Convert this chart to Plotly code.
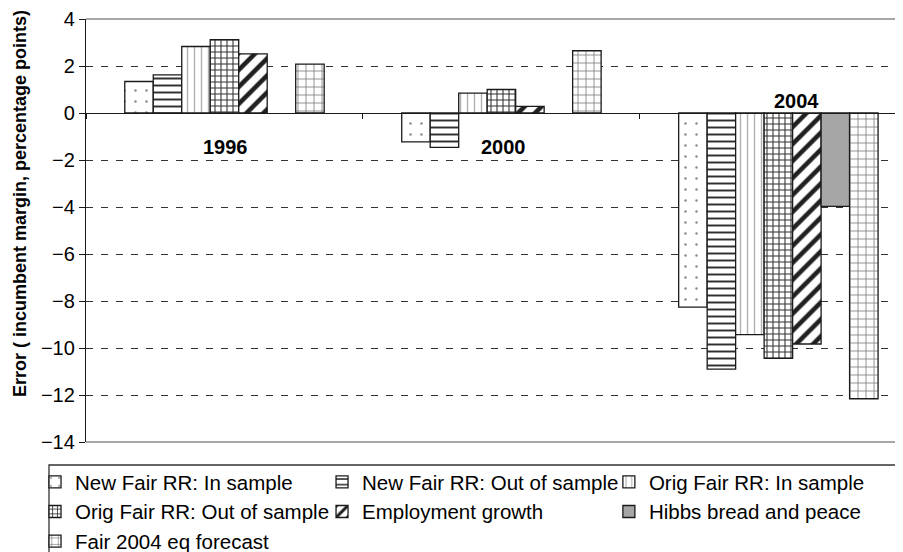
import plotly.graph_objects as go

years = ["1996", "2000", "2004"]

series_names = [
    "New Fair RR: In sample",
    "New Fair RR: Out of sample",
    "Orig Fair RR: In sample",
    "Orig Fair RR: Out of sample",
    "Employment growth",
    "Hibbs bread and peace",
    "Fair 2004 eq forecast",
]

new_fair_in = [1.34, -1.23, -8.26]
new_fair_out = [1.62, -1.46, -10.9]
orig_fair_in = [2.83, 0.85, -9.43]
orig_fair_out = [3.12, 1.0, -10.44]
employment = [2.52, 0.28, -9.83]
hibbs = [None, None, -3.97]
fair_2004 = [2.08, 2.65, -12.16]

series_values = [new_fair_in, new_fair_out, orig_fair_in, orig_fair_out,
                 employment, hibbs, fair_2004]

y_min, y_max = -14, 4

FONT = "Liberation Sans, Arial, sans-serif"

# pattern styling per series: (shape, size, solidity, fg colour, fill colour)
styles = [
    (".", 11, 0.04, "#8a8a8a", "white"),
    ("-", 7, 0.28, "#303030", "white"),
    ("|", 7, 0.2, "#b0b0b0", "white"),
    ("+", 6, 0.32, "#303030", "white"),
    ("/", 12, 0.38, "#202020", "white"),
    ("", 8, 0.3, "#a6a6a6", "#a6a6a6"),
    ("+", 8, 0.2, "#808080", "white"),
]
legend_of = ["legend", "legend2", "legend3", "legend", "legend2", "legend3", "legend"]

fig = go.Figure()
for name, vals, st, lg in zip(series_names, series_values, styles, legend_of):
    shape, size, solid, fg, bg = st
    fig.add_trace(go.Bar(
        x=years,
        y=vals,
        name=name,
        legend=lg,
        marker=dict(
            color=bg,
            line=dict(color="#1a1a1a", width=1.3),
            pattern=dict(shape=shape, size=size, solidity=solid,
                         fgcolor=fg, bgcolor=bg, fillmode="replace"),
        ),
    ))

# year labels next to the zero line
label_shift = {"1996": (1, -34), "2000": (2, -34), "2004": (18, 12)}
for i, yr in enumerate(years):
    dx, dy = label_shift[yr]
    fig.add_annotation(x=i, y=0, text="<b>%s</b>" % yr, showarrow=False,
                       xshift=dx, yshift=dy,
                       font=dict(family=FONT, size=20, color="black"))

fig.add_annotation(
    xref="paper", yref="paper", x=-0.0808, y=0.565,
    xanchor="center", yanchor="middle",
    text="<b>Error ( incumbent margin, percentage points)</b>",
    textangle=-90, showarrow=False,
    font=dict(family=FONT, size=18, color="black"),
)

# plot frame (top and bottom) and legend box
fig.add_shape(type="line", xref="paper", yref="paper", x0=0, x1=1.02, y0=1, y1=1,
              line=dict(color="#8a8a8a", width=1.5))
fig.add_shape(type="line", xref="paper", yref="paper", x0=0, x1=1.02, y0=0, y1=0,
              line=dict(color="#8a8a8a", width=1.5))
fig.add_shape(type="rect", xref="paper", yref="paper",
              x0=-0.0453, x1=1.02, y0=-0.3, y1=-0.0544,
              line=dict(color="#333333", width=1.3), fillcolor="rgba(0,0,0,0)")

legend_common = dict(font=dict(family=FONT, size=20.5, color="black"),
                     bgcolor="rgba(0,0,0,0)", borderwidth=0,
                     xanchor="left", yanchor="top", orientation="v",
                     traceorder="normal")

# page body adds an 8px offset, so the figure is 8px smaller than the window
fig.update_layout(
    width=895, height=544,
    margin=dict(l=78, r=0, t=11, b=110, autoexpand=False),
    paper_bgcolor="white", plot_bgcolor="white",
    barmode="group", bargap=0.28, bargroupgap=0,
    showlegend=True,
    legend=dict(x=-0.0624, y=-0.0473, **legend_common),
    legend2=dict(x=0.2889, y=-0.0473, **legend_common),
    legend3=dict(x=0.640, y=-0.0473, **legend_common),
    xaxis=dict(
        type="category", range=[-0.5, 2.45],
        anchor="free", position=(0 - y_min) / (y_max - y_min),
        showline=True, linecolor="#1a1a1a", linewidth=1.3,
        ticks="outside", tickson="boundaries", ticklen=5,
        tickcolor="#1a1a1a", showticklabels=False, showgrid=False,
        zeroline=False,
    ),
    yaxis=dict(
        range=[y_min, y_max], dtick=2, tick0=0,
        showline=True, linecolor="#1a1a1a", linewidth=1.3,
        ticks="outside", ticklen=6, tickcolor="#1a1a1a",
        tickfont=dict(family=FONT, size=20, color="black"),
        showgrid=True, gridcolor="#333333", gridwidth=1.2,
        griddash="7px,8px", zeroline=False,
    ),
    font=dict(family=FONT, color="black"),
)

fig.write_html("out.html")
